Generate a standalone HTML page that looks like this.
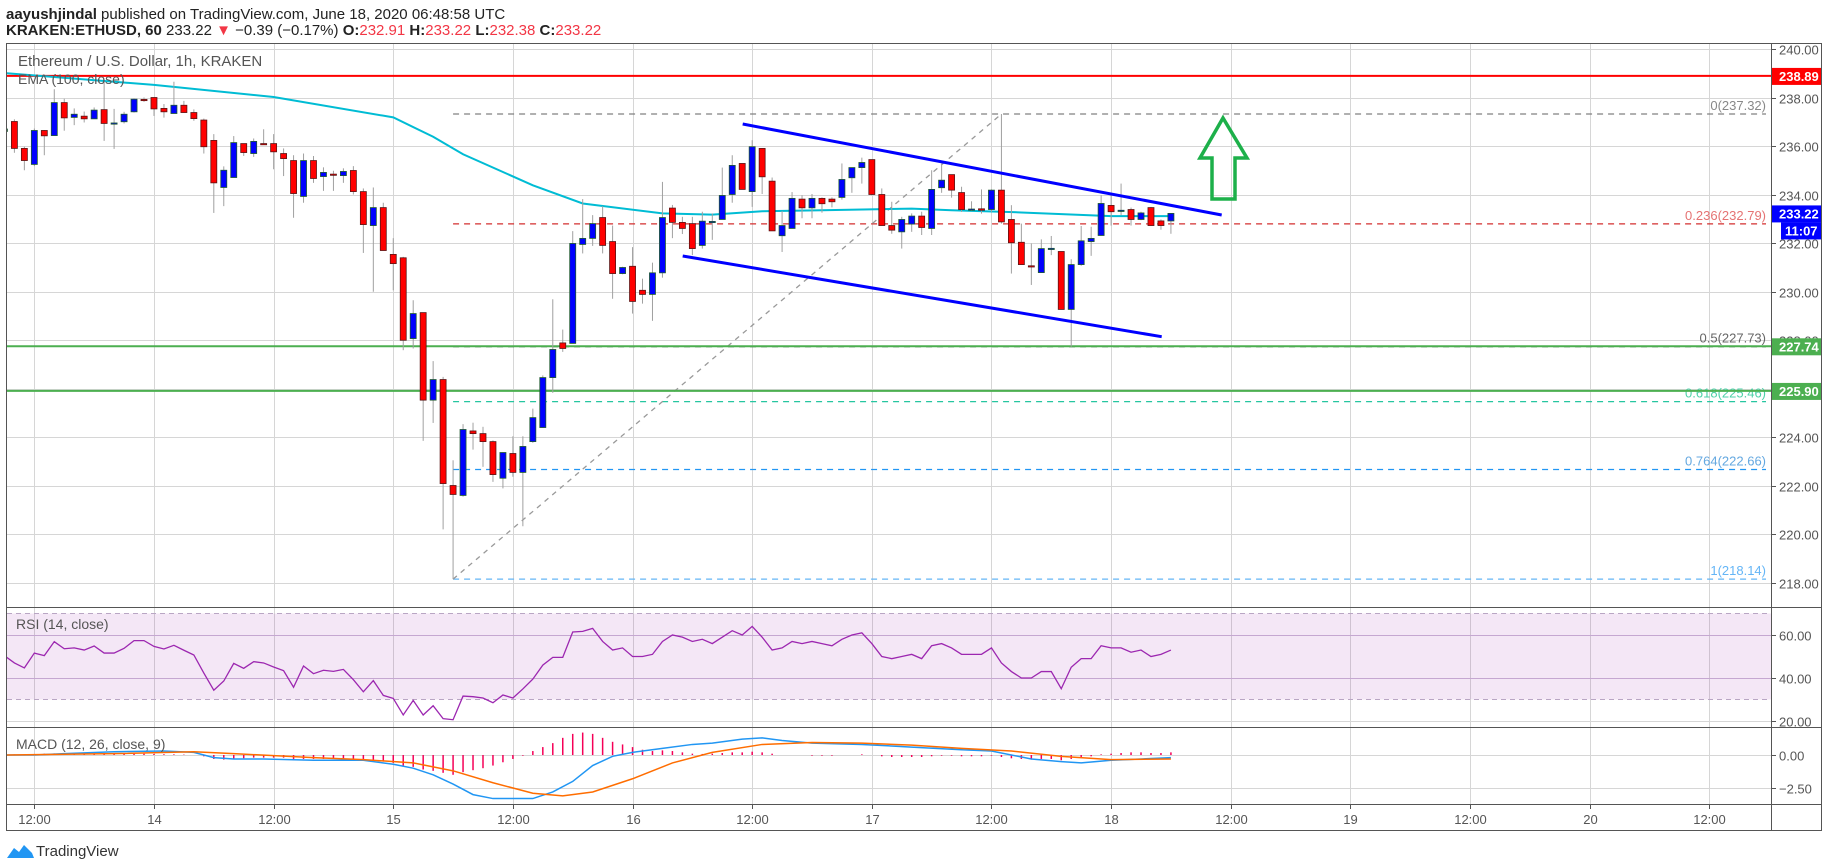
<!DOCTYPE html>
<html><head><meta charset="utf-8"><style>
body{margin:0;background:#fff;}
svg{display:block;font-family:"Liberation Sans",sans-serif;}
</style></head><body>
<svg id="c" width="1828" height="868" viewBox="0 0 1828 868" xmlns="http://www.w3.org/2000/svg">
<defs><clipPath id="pc"><rect x="7" y="43" width="1764" height="564"/></clipPath>
<clipPath id="rc"><rect x="7" y="607" width="1764" height="120"/></clipPath>
<clipPath id="mc"><rect x="7" y="727" width="1764" height="77"/></clipPath></defs>
<text x="6" y="19" font-size="15" fill="#222"><tspan font-weight="bold">aayushjindal</tspan> published on TradingView.com, June 18, 2020 06:48:58 UTC</text>
<text x="6" y="35" font-size="15" fill="#222"><tspan font-weight="bold">KRAKEN:ETHUSD, 60</tspan> 233.22 <tspan fill="#f23645">▼</tspan> −0.39 (−0.17%) <tspan font-weight="bold">O:</tspan><tspan fill="#f23645">232.91</tspan> <tspan font-weight="bold">H:</tspan><tspan fill="#f23645">233.22</tspan> <tspan font-weight="bold">L:</tspan><tspan fill="#f23645">232.38</tspan> <tspan font-weight="bold">C:</tspan><tspan fill="#f23645">233.22</tspan></text>
<g id="grid"></g>
<rect x="7" y="613.5" width="1764" height="86" fill="#9c27b0" fill-opacity="0.11"/>
<line x1="7" x2="1771" y1="613.5" y2="613.5" stroke="#b9a6c4" stroke-dasharray="5,4"/>
<line x1="7" x2="1771" y1="699.5" y2="699.5" stroke="#b9a6c4" stroke-dasharray="5,4"/>
<g id="price" clip-path="url(#pc)"></g>
<g id="rsi" clip-path="url(#rc)"></g>
<g id="macd" clip-path="url(#mc)"></g>
<g id="frame" fill="none" stroke="#555">
<rect x="6.5" y="43.5" width="1815" height="787"/>
<line x1="1771.5" x2="1771.5" y1="43" y2="831"/>
<line x1="6" x2="1822" y1="607.5" y2="607.5"/>
<line x1="6" x2="1822" y1="727.5" y2="727.5"/>
<line x1="6" x2="1822" y1="804.5" y2="804.5"/>
</g>
<g id="axis"></g>
<text x="18" y="66" font-size="15" fill="#555">Ethereum / U.S. Dollar, 1h, KRAKEN</text>
<text x="18" y="84" font-size="14" fill="#555">EMA (100, close)</text>
<text x="16" y="629" font-size="14" fill="#555">RSI (14, close)</text>
<text x="16" y="749" font-size="14" fill="#555">MACD (12, 26, close, 9)</text>
<g>
<path d="M7 858 L14 848 L19 852 L24 845 L32 853 L34 858 Z" fill="#2196f3"/>
<text x="36" y="856" font-size="15" fill="#333">TradingView</text>
</g>
</svg>
<script>
const startT = 9;
const opens = [236.6,237.01,235.90,235.24,236.64,236.43,237.79,237.18,237.23,237.12,237.5,236.93,237.0,237.41,237.92,238.0,237.55,237.34,237.68,237.38,237.07,236.23,234.29,234.70,236.10,235.69,236.10,236.1,235.69,235.40,233.92,235.40,234.74,234.84,234.78,234.99,234.12,232.72,233.46,231.53,231.39,228.06,229.13,225.52,226.37,222.0,221.59,224.25,224.14,223.81,222.30,223.32,222.54,223.81,224.39,226.45,227.88,227.86,231.94,232.19,233.05,232.06,230.74,231.04,230.05,229.88,230.77,233.44,232.85,232.80,231.90,232.87,232.97,234.0,235.28,234.12,235.90,234.55,232.30,232.60,233.81,233.45,233.84,233.81,233.88,234.69,235.11,235.44,234.0,232.72,232.46,232.78,233.11,232.60,234.28,234.82,234.08,233.37,233.41,233.38,234.18,232.97,232.03,231.06,230.78,231.77,231.65,229.26,231.11,232.06,232.31,233.55,233.33,233.38,232.97,233.46,232.91,232.91];
const highs = [236.9,237.1,235.97,236.72,236.66,238.34,237.95,237.55,237.42,237.59,238.7,237.53,237.41,237.96,238.0,238.0,237.73,238.65,237.86,237.51,237.13,236.49,235.16,236.41,236.10,236.31,236.69,236.49,235.90,235.62,235.69,235.59,235.12,234.98,235.08,235.17,234.25,234.29,233.66,232.2,231.43,229.64,229.13,227.13,226.48,223.04,224.53,224.59,224.42,223.86,223.36,224.03,224.03,225.17,226.54,229.68,228.43,232.49,233.81,233.15,233.52,232.72,231.02,231.83,230.53,231.19,234.52,233.57,233.08,233.08,233.29,233.22,235.11,235.62,235.28,236.24,235.90,234.70,233.32,234.10,233.97,234.02,233.88,233.88,235.28,235.11,235.52,235.44,234.25,233.70,233.08,233.22,233.29,235.0,235.28,234.82,234.32,233.72,234.21,234.21,237.32,233.56,232.80,231.98,232.15,232.29,231.65,231.33,232.70,232.67,233.97,233.97,234.45,233.46,233.29,233.49,232.97,233.22];
const lows = [236.4,235.72,235.0,235.17,235.62,236.43,236.63,236.86,236.97,237.12,236.21,235.88,236.93,237.38,237.82,237.24,237.17,237.34,237.38,237.04,235.69,233.24,233.52,234.70,235.59,235.55,236.10,235.04,234.76,233.04,233.66,234.48,234.15,234.15,234.48,234.0,231.59,229.99,231.69,230.05,227.58,227.65,223.84,224.58,220.19,218.14,221.54,223.48,222.77,222.15,221.88,222.36,220.32,223.76,224.39,225.82,227.51,227.86,231.57,231.88,231.57,229.70,230.71,229.09,229.50,228.79,230.57,232.20,232.37,231.50,231.77,232.13,232.97,233.66,234.21,233.49,234.02,232.50,231.63,232.60,233.02,233.02,233.25,233.47,233.79,234.07,234.45,233.97,232.72,232.38,231.77,232.46,232.33,232.33,234.07,233.87,233.28,233.32,233.21,233.28,232.80,230.74,231.11,230.27,230.78,231.50,229.26,227.72,231.06,231.47,232.31,232.72,233.15,232.72,232.94,232.72,232.55,232.38];
const closes = [236.7,235.90,235.40,236.64,236.42,237.79,237.16,237.31,237.12,237.48,236.93,236.95,237.31,237.93,237.90,237.53,237.41,237.68,237.38,237.13,235.97,234.48,235.0,236.14,235.73,236.19,236.08,235.76,235.48,234.04,235.40,234.66,234.91,234.82,234.95,234.12,232.76,233.46,231.69,231.15,227.99,229.09,225.52,226.37,222.08,221.63,224.31,224.14,223.81,222.45,223.36,222.54,223.61,224.80,226.45,227.61,227.65,231.98,232.19,232.80,231.90,230.74,230.99,229.59,229.88,230.77,233.05,232.85,232.60,231.77,232.90,232.89,233.96,235.20,234.21,235.97,234.73,232.50,232.72,233.84,233.45,233.84,233.62,233.70,234.62,235.11,235.32,234.0,232.72,232.53,232.97,233.11,232.64,234.21,234.59,234.18,233.38,233.40,233.35,234.18,232.87,232.01,231.11,231.04,231.77,231.78,229.26,231.11,232.09,232.19,233.63,233.29,233.35,232.97,233.24,232.72,232.72,233.22];
const emaT = [9,24,36,48,52,55,62,67,75,80,85,91,100,104,111,120,126];
const emaV = [239.01,238.52,238.02,237.18,236.38,235.66,234.38,233.63,233.22,233.17,233.31,233.35,233.42,233.35,233.26,233.11,233.11];
const rsiV = [50.4,47,44.7,51.6,50.4,56.9,53.6,54,53,54.9,51.6,51.6,53.8,57.4,57.4,54.7,53.5,55.2,52.9,50.7,42.3,34.3,38.6,46.8,44.5,47.6,47,45.1,43.4,35.7,45.6,42,43.6,43.1,44,39.2,33.6,38.8,31.9,30.5,22.8,29.6,22.8,27.1,21.1,20.6,31.6,31.3,30.7,28.5,32.1,30.7,34.9,39.5,46,49.6,49.6,61.4,61.7,63.1,57,53,54,50,50,51,57,60,59,57,58,56,59,62,60,64,59,53,54,57,56,57,56,55,58,60,61,56,50,49,50,51,49,55,56,54,51,51,51,54,47,43,40,40,43,43,35,45,49,49,55,54,54,52,53,50,51,53];
const macdT = [9,12,15,20,25,28,30,32,35,40,45,48,50,52,54,56,58,60,62,64,66,68,70,72,75,78,80,83,85,87,90,95,100,105,108,112,115,117,120,126];
const macdV = [0,0,0.1,0.25,0.3,0.2,-0.2,-0.3,-0.3,-0.4,-0.4,-0.7,-1.0,-1.5,-2.2,-3.0,-3.3,-3.3,-3.3,-2.8,-2.0,-0.8,-0.1,0.2,0.5,0.8,0.9,1.2,1.3,1.1,0.9,0.8,0.6,0.4,0.3,-0.3,-0.5,-0.6,-0.4,-0.2];
const sigT = [9,20,28,32,40,45,50,54,58,62,65,68,72,76,80,85,90,95,100,105,110,115,120,126];
const sigV = [0,0.1,0.25,0.1,-0.2,-0.35,-0.6,-1.2,-2.1,-2.9,-3.1,-2.8,-1.8,-0.6,0.2,0.8,0.95,0.9,0.75,0.5,0.3,-0.1,-0.35,-0.3];
const histV = [0.05,0.05,0.05,0.08,0.1,0.12,0.12,0.12,0.12,0.12,0.1,0.1,0.1,0.1,0.1,0.08,0.06,0.05,0.03,0,-0.1,-0.3,-0.35,-0.3,-0.25,-0.2,-0.2,-0.2,-0.2,-0.3,-0.3,-0.3,-0.3,-0.3,-0.3,-0.3,-0.35,-0.4,-0.5,-0.6,-0.8,-0.9,-1.1,-1.2,-1.35,-1.5,-1.3,-1.15,-1.0,-0.8,-0.55,-0.3,-0.05,0.3,0.6,0.9,1.3,1.6,1.7,1.6,1.3,1.0,0.8,0.6,0.4,0.3,0.35,0.3,0.2,0.1,0.08,0.1,0.15,0.2,0.2,0.25,0.2,0.1,0,0,0,-0.05,-0.05,-0.05,0,0,0.05,0,-0.1,-0.15,-0.15,-0.15,-0.15,-0.1,-0.05,-0.05,-0.1,-0.1,-0.1,-0.05,-0.15,-0.25,-0.3,-0.35,-0.3,-0.3,-0.4,-0.3,-0.2,-0.1,0.05,0.1,0.15,0.2,0.2,0.15,0.15,0.2];
const priceTicks = [240,238,236,234,232,230,228,226,224,222,220,218];
const rsiTicks = [60,40,20];
const macdTicks = [0,-2.5];
const timeT = [12,24,36,48,60,72,84,96,108,120,132,144,156,168,180];
const timeLabels = ["12:00","14","12:00","15","12:00","16","12:00","17","12:00","18","12:00","19","12:00","20","12:00"];
const fibLevels = ["0","0.236","0.5","0.618","0.764","1"];
const fibPrices = [237.32,232.79,227.73,225.46,222.66,218.14];
const fibColors = ["#808080","#d32f2f","#333333","#26c6a0","#2196f3","#64b5f6"];
const fibTextColors = ["#888","#e57373","#666","#4dd0a8","#64a8e0","#64b5f6"];
const hLinePrices = [238.89,227.74,225.90];
const hLineColors = ["#ff0000","#4caf50","#4caf50"];

const NS="http://www.w3.org/2000/svg";
const X=t=>-85.3+9.97*t;
const Y=p=>49+(240-p)*24.25;
const RY=v=>635+(60-v)*2.15;
const MY=v=>755-v*13.2;
function mk(tag,attrs,parent){const e=document.createElementNS(NS,tag);for(const k in attrs)e.setAttribute(k,attrs[k]);parent.appendChild(e);return e;}
const grid=document.getElementById('grid'),price=document.getElementById('price'),rsi=document.getElementById('rsi'),macd=document.getElementById('macd'),axis=document.getElementById('axis');

timeT.forEach((t,i)=>{const x=Math.round(X(t))+0.5;
 const g=mk('line',{x1:x,x2:x,y1:43,y2:804,stroke:'#d6d6d6'},grid);
 
 
 mk('line',{x1:x,x2:x,y1:804,y2:809,stroke:'#555'},axis);
 const tx=mk('text',{x:x,y:824,'font-size':13,fill:'#555','text-anchor':'middle'},axis);tx.textContent=timeLabels[i];
 
 
});
priceTicks.forEach(p=>{const y=Math.round(Y(p))+0.5;
 const g=mk('line',{x1:7,x2:1771,y1:y,y2:y,stroke:'#d6d6d6'},grid);
 
 
 mk('line',{x1:1771,x2:1776,y1:y,y2:y,stroke:'#555'},axis);
 const tx=mk('text',{x:1779,y:y+5,'font-size':13,fill:'#555'},axis);tx.textContent=p.toFixed(2);
 
 
});
rsiTicks.forEach(v=>{const y=Math.round(RY(v))+0.5;
 const g=mk('line',{x1:7,x2:1771,y1:y,y2:y,stroke:v==20?'#d6d6d6':'#cbb8d6'},grid);
 
 
 mk('line',{x1:1771,x2:1776,y1:y,y2:y,stroke:'#555'},axis);
 const tx=mk('text',{x:1779,y:y+5,'font-size':13,fill:'#555'},axis);tx.textContent=v.toFixed(2);
 
 
});
macdTicks.forEach(v=>{const y=Math.round(MY(v))+0.5;
 const g=mk('line',{x1:7,x2:1771,y1:y,y2:y,stroke:'#d6d6d6'},grid);
 
 
 mk('line',{x1:1771,x2:1776,y1:y,y2:y,stroke:'#555'},axis);
 const tx=mk('text',{x:1779,y:y+5,'font-size':13,fill:'#555'},axis);tx.textContent=(v<0?'−'+(-v).toFixed(2):v.toFixed(2));
 
 
});

// fib lines
const x0=X(54), x1=X(109);
fibPrices.forEach((p,i)=>{const y=Y(p);
 const l=mk('line',{x1:x0,x2:1766,y1:y,y2:y,stroke:fibColors[i],'stroke-width':1.3,'stroke-dasharray':'6,5'},price);
 
 
 const tx=mk('text',{x:1766,y:y-4,'font-size':13,fill:fibTextColors[i],'text-anchor':'end'},price);tx.textContent=fibLevels[i]+'('+p.toFixed(2)+')';
 
 
});
const diag=mk('line',{x1:x0,y1:Y(fibPrices[5]),x2:x1,y2:Y(fibPrices[0]),stroke:'#999','stroke-width':1.3,'stroke-dasharray':'5,5'},price);



hLinePrices.forEach((p,i)=>{const y=Y(p);
 const l=mk('line',{x1:7,x2:1771,y1:y,y2:y,stroke:hLineColors[i],'stroke-width':2},price);
 
 
});

// EMA
const ema=mk('polyline',{points:emaT.map((t,i)=>X(t)+','+Y(emaV[i])).join(' '),fill:'none',stroke:'#00bcd4','stroke-width':2},price);



// candles
opens.forEach((o,i)=>{const t=startT+i,x=X(t),c=closes[i],h=highs[i],lo=lows[i];const up=c>=o;
 const g=mk('g',{},price);
 
 
 mk('line',{x1:x,x2:x,y1:Y(h),y2:Y(lo),stroke:'#a0a0a0','stroke-width':1},g);
 const top=Y(Math.max(o,c)),bh=Math.max(1.2,Math.abs(Y(o)-Y(c)));
 mk('rect',{x:x-3,y:top,width:6,height:bh,fill:up?'#0000ff':'#ff0000',stroke:up?'#1e5a2e':'#5a1414','stroke-width':0.8},g);
});

// channel lines
const ch1=mk('line',{x1:742.7,y1:124,x2:1221.7,y2:215,stroke:'#0000ff','stroke-width':3},price);


const ch2=mk('line',{x1:682.7,y1:256,x2:1161.7,y2:336.7,stroke:'#0000ff','stroke-width':3},price);


const arr=mk('path',{d:'M1223 118 L1247 158 L1235 158 L1235 199 L1212 199 L1212 158 L1200 158 Z',fill:'none',stroke:'#1db04a','stroke-width':3.5,'stroke-linejoin':'miter'},price);



// RSI
const rl=mk('polyline',{points:rsiV.map((v,i)=>X(startT+i)+','+RY(v)).join(' '),fill:'none',stroke:'#9c27b0','stroke-width':1.3},rsi);



// MACD
histV.forEach((v,i)=>{const x=X(startT+i);
 const b=mk('line',{x1:x,x2:x,y1:MY(0),y2:MY(v),stroke:'#f50057','stroke-width':1.5},macd);
 
 
});
const ml=mk('polyline',{points:macdT.map((t,i)=>X(t)+','+MY(macdV[i])).join(' '),fill:'none',stroke:'#2196f3','stroke-width':1.5},macd);


const sl=mk('polyline',{points:sigT.map((t,i)=>X(t)+','+MY(sigV[i])).join(' '),fill:'none',stroke:'#ff6d00','stroke-width':1.5},macd);



// axis price labels
function tag(p,bg,txt,name,dy){const y=Y(p)+(dy||0);
 const r=mk('rect',{x:1772,y:y-8,width:49,height:17,fill:bg},axis);
 
 
 const tx=mk('text',{x:1779,y:y+5,'font-size':13,'font-weight':'bold',fill:'#fff'},axis);tx.textContent=txt;
 
 
}
tag(238.89,'#ff0000','238.89','resistance-price-tag');
tag(227.74,'#4caf50','227.74','support-price-tag-1');
tag(225.90,'#4caf50','225.90','support-price-tag-2');
tag(233.22,'#0000ff','233.22','last-price-tag');
const cr=mk('rect',{x:1781,y:Y(233.22)+9,width:40,height:17,fill:'#0000ff'},axis);


const ct=mk('text',{x:1785,y:Y(233.22)+22,'font-size':13,'font-weight':'bold',fill:'#fff'},axis);ct.textContent='11:07';


</script>
</body></html>
